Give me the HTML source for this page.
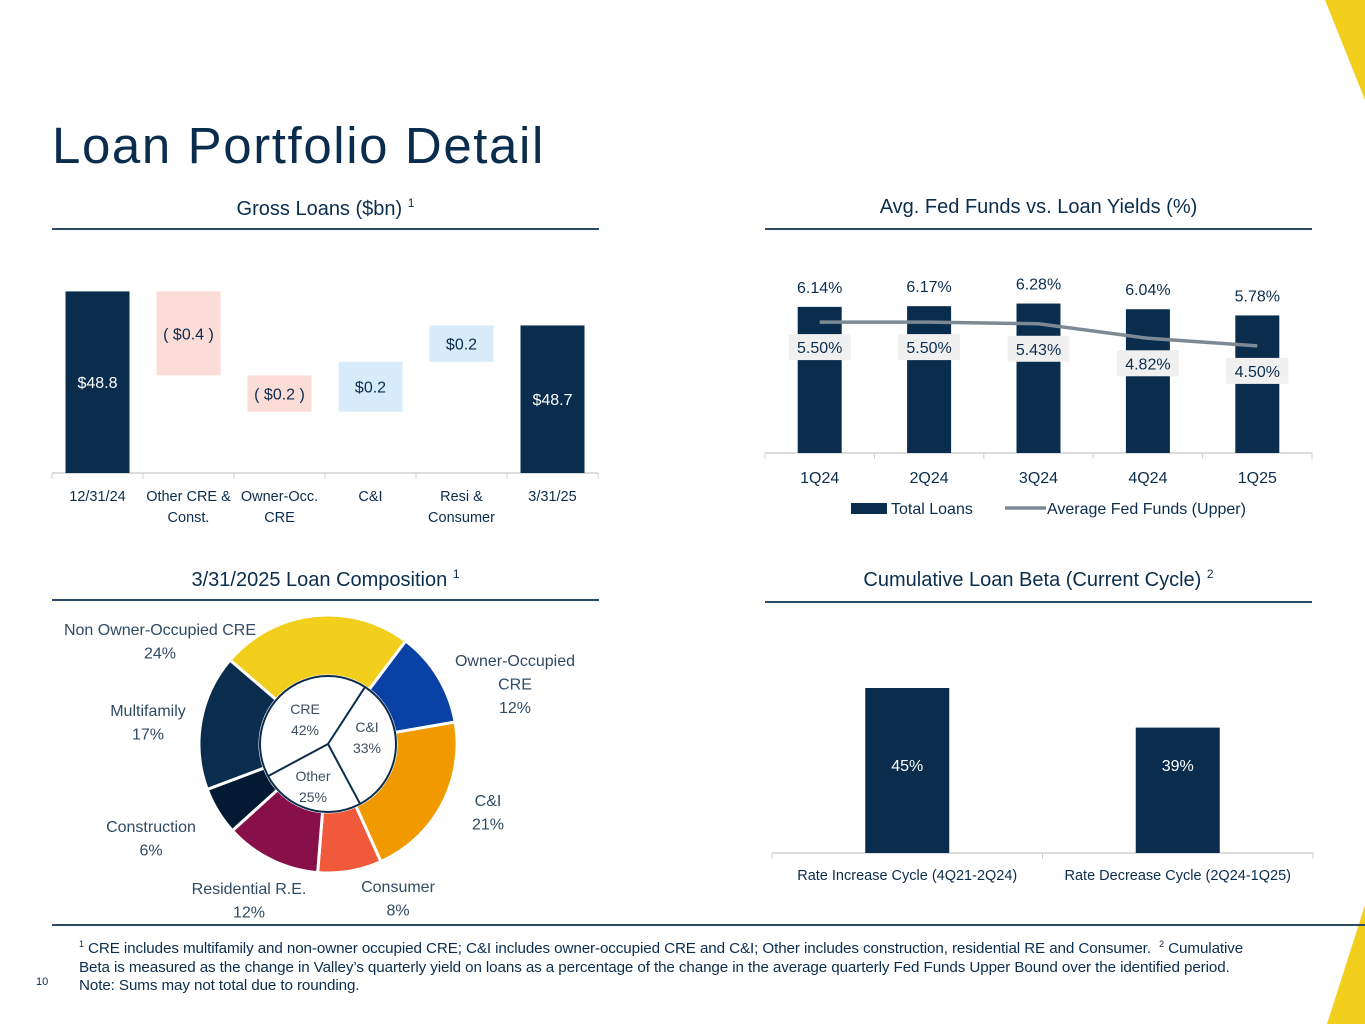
<!DOCTYPE html>
<html><head><meta charset="utf-8">
<style>
body{margin:0;background:#fff;}
#page{position:relative;width:1365px;height:1024px;overflow:hidden;background:#fff;font-family:"Liberation Sans",sans-serif;color:#0b2d4d;}
.abs{position:absolute;}
h1{position:absolute;left:52px;top:116px;margin:0;font-size:51px;font-weight:normal;color:#0b2d4d;letter-spacing:1.6px;}
.hdr{position:absolute;font-size:20px;text-align:center;color:#0b2d4d;}
.hdr sup{font-size:12px;vertical-align:8px;}
.rule{position:absolute;height:1.5px;background:#2b4a66;}
.foot{position:absolute;left:79px;top:935px;width:1215px;font-family:"Liberation Sans Narrow","Liberation Sans",sans-serif;font-size:15.2px;line-height:18.5px;color:#0b2d4d;letter-spacing:-0.1px;}
.foot sup{font-size:9px;}
svg text{font-family:"Liberation Sans",sans-serif;}
</style></head><body>
<div id="page">
<svg class="abs" style="left:0;top:0" width="1365" height="1024">
<polygon points="1325,0 1365,0 1365,100" fill="#f2cf1d"/>
<polygon points="1365,905 1365,1024 1327,1024" fill="#f2cf1d"/>
</svg>
<h1>Loan Portfolio Detail</h1>
<div class="hdr" style="left:52px;top:196px;width:547px">Gross Loans ($bn) <sup>1</sup></div>
<div class="rule" style="left:52px;top:228px;width:547px"></div>
<div class="hdr" style="left:765px;top:196px;width:547px">Avg. Fed Funds vs. Loan Yields (%)</div>
<div class="rule" style="left:765px;top:228px;width:547px"></div>
<div class="hdr" style="left:52px;top:567px;width:547px">3/31/2025 Loan Composition <sup>1</sup></div>
<div class="rule" style="left:52px;top:599px;width:547px"></div>
<div class="hdr" style="left:765px;top:567px;width:547px">Cumulative Loan Beta (Current Cycle) <sup>2</sup></div>
<div class="rule" style="left:765px;top:601px;width:547px"></div>
<div class="rule" style="left:52px;top:924px;width:1313px"></div>
<div class="foot"><sup>1</sup> CRE includes multifamily and non-owner occupied CRE; C&amp;I includes owner-occupied CRE and C&amp;I; Other includes construction, residential RE and Consumer.&nbsp; <sup>2</sup> Cumulative<br>Beta is measured as the change in Valley’s quarterly yield on loans as a percentage of the change in the average quarterly Fed Funds Upper Bound over the identified period.<br>Note: Sums may not total due to rounding.</div>
<div class="abs" style="left:36px;top:976px;font-size:11px;font-family:'Liberation Sans Narrow','Liberation Sans',sans-serif">10</div>
<svg id="charts" class="abs" style="left:0;top:0" width="1365" height="1024"></svg>
</div>
<script>
// Waterfall data
const wfCats = ["12/31/24","Other CRE &|Const.","Owner-Occ.|CRE","C&I","Resi &|Consumer","3/31/25"];
const wfStart = 48.8;
const wfDeltas = [-0.37,-0.16,0.22,0.16];
const wfEnd = 48.65;
const wfLabels = ["$48.8","( $0.4 )","( $0.2 )","$0.2","$0.2","$48.7"];
// Yields chart data
const qCats = ["1Q24","2Q24","3Q24","4Q24","1Q25"];
const loanYields = [6.14,6.17,6.28,6.04,5.78];
const fedFunds = [5.50,5.50,5.43,4.82,4.50];
// Composition data
const outerCats = ["Owner-Occupied CRE","C&I","Consumer","Residential R.E.","Construction","Multifamily","Non Owner-Occupied CRE"];
const outerVals = [12,21,8,12,6,17,24];
const innerCats = ["C&I","Other","CRE"];
const innerVals = [33,25,42];
// Beta data
const betaCats = ["Rate Increase Cycle (4Q21-2Q24)","Rate Decrease Cycle (2Q24-1Q25)"];
const betaVals = [45,39];

const NS="http://www.w3.org/2000/svg";
const svg=document.getElementById('charts');
function mk(tag,attrs,parent){const e=document.createElementNS(NS,tag);for(const k in attrs)e.setAttribute(k,attrs[k]);(parent||svg).appendChild(e);return e;}
function txt(x,y,s,size,fill,parent,anchor){const t=mk('text',{x:x,y:y,'font-size':size,fill:fill,'text-anchor':anchor||'middle'},parent);t.textContent=s;return t;}
const NAVY="#0b2d4d";

// ---------- Waterfall ----------
(function(){
 const g=mk('g',{});
 
 
 const x0=52,slot=91,bw=64,base=48.0,k=227,y0=473;
 const y=v=>y0-(v-base)*k;
 const cx=i=>x0+slot*i+slot/2;
 mk('line',{x1:x0,y1:y0,x2:x0+slot*6,y2:y0,stroke:'#d0d0d0','stroke-width':1.5},g);
 for(let i=0;i<=6;i++) mk('line',{x1:x0+slot*i,y1:y0,x2:x0+slot*i,y2:y0+6,stroke:'#d0d0d0'},g);
 let cum=wfStart;
 for(let i=0;i<6;i++){
  let top,bot,fill,tc;
  if(i===0){top=y(wfStart);bot=y0;fill=NAVY;tc='#fff';}
  else if(i===5){top=y(wfEnd);bot=y0;fill=NAVY;tc='#fff';}
  else{const d=wfDeltas[i-1];const a=cum,b=cum+d;cum=b;top=y(Math.max(a,b));bot=y(Math.min(a,b));fill=d<0?'#fcdcd6':'#d7ebfb';tc=NAVY;}
  const r=mk('rect',{x:cx(i)-bw/2,y:top,width:bw,height:bot-top,fill:fill},g);
  
  
  txt(cx(i),(top+bot)/2+6,wfLabels[i],16,tc,g);
  const parts=wfCats[i].split('|');
  parts.forEach((p,j)=>txt(cx(i),y0+28+j*21,p,14.5,NAVY,g));
 }
})();

// ---------- Yields ----------
(function(){
 const g=mk('g',{});
 
 
 const x0=765,slot=109.4,bw=44,y0=453,k=23.8;
 const y=v=>y0-v*k;
 const cx=i=>x0+slot*i+slot/2;
 mk('line',{x1:x0,y1:y0,x2:x0+slot*5,y2:y0,stroke:'#d0d0d0','stroke-width':1.5},g);
 for(let i=0;i<=5;i++) mk('line',{x1:x0+slot*i,y1:y0,x2:x0+slot*i,y2:y0+6,stroke:'#d0d0d0'},g);
 loanYields.forEach((v,i)=>{
  const r=mk('rect',{x:cx(i)-bw/2,y:y(v),width:bw,height:y0-y(v),fill:NAVY},g);
  
  
  txt(cx(i),y(v)-14,v.toFixed(2)+'%',16,NAVY,g);
  txt(cx(i),y0+30,qCats[i],16,NAVY,g);
 });
 const pts=fedFunds.map((v,i)=>cx(i)+','+y(v)).join(' ');
 const pl=mk('polyline',{points:pts,fill:'none',stroke:'#7d8a96','stroke-width':3.5,'stroke-linejoin':'round'},g);
 
 
 fedFunds.forEach((v,i)=>{
  const ly=y(v)+27;
  mk('rect',{x:cx(i)-31,y:ly-15,width:62,height:26,fill:'#f0f0f0'},g);
  txt(cx(i),ly+4,v.toFixed(2)+'%',16,NAVY,g);
 });
 const lg=mk('g',{},g);
 
 
 mk('rect',{x:851,y:503,width:36,height:11,fill:NAVY},lg);
 txt(891,514,'Total Loans',16,NAVY,lg,'start');
 mk('line',{x1:1005,y1:508,x2:1046,y2:508,stroke:'#7d8a96','stroke-width':3.5},lg);
 txt(1047,514,'Average Fed Funds (Upper)',16,NAVY,lg,'start');
})();

// ---------- Donut ----------
(function(){
 const g=mk('g',{});
 
 
 const cx=328,cy=744,R=129,r=68;
 const colors=["#0a41a5","#f09a00","#f05a3a","#870f4a","#041a33","#0b2d4d","#f2cf1d"];
 const pol=(rad,deg)=>[cx+rad*Math.sin(deg*Math.PI/180),cy-rad*Math.cos(deg*Math.PI/180)];
 const tot=outerVals.reduce((a,b)=>a+b,0);
 let a=37;
 outerVals.forEach((v,i)=>{
  const b=a+v/tot*360;
  const [x1,y1]=pol(R,a),[x2,y2]=pol(R,b),[x3,y3]=pol(r,b),[x4,y4]=pol(r,a);
  const lf=(b-a)>180?1:0;
  const p=mk('path',{d:`M${x1},${y1} A${R},${R} 0 ${lf} 1 ${x2},${y2} L${x3},${y3} A${r},${r} 0 ${lf} 0 ${x4},${y4} Z`,fill:colors[i],stroke:'#fff','stroke-width':3},g);
  
  
  a=b;
 });
 mk('circle',{cx:cx,cy:cy,r:r,fill:'#fff',stroke:NAVY,'stroke-width':2},g);
 const itot=innerVals.reduce((a,b)=>a+b,0);
 let ia=33;
 innerVals.forEach(v=>{const [x,y]=pol(r,ia);mk('line',{x1:cx,y1:cy,x2:x,y2:y,stroke:NAVY,'stroke-width':2},g);ia+=v/itot*360;});
 const inLab=[[367,732],[313,781],[305,714]];
 innerCats.forEach((c,i)=>{txt(inLab[i][0],inLab[i][1],c,14,'#3d4f60',g);txt(inLab[i][0],inLab[i][1]+21,innerVals[i]+'%',14,'#3d4f60',g);});
 const labs=[[["Owner-Occupied","CRE"],515,666],[["C&I"],488,806],[["Consumer"],398,892],[["Residential R.E."],249,894],[["Construction"],151,832],[["Multifamily"],148,716],[["Non Owner-Occupied CRE"],160,635]];
 labs.forEach((L,i)=>{
  const lines=L[0].concat([outerVals[i]+'%']);
  lines.forEach((s,j)=>txt(L[1],L[2]+j*23.5,s,16,'#2f4a63',g));
 });
})();

// ---------- Beta ----------
(function(){
 const g=mk('g',{});
 
 
 const x0=772,slot=270.5,bw=84,y0=853,base=20,k=6.6;
 const y=v=>y0-(v-base)*k;
 const cx=i=>x0+slot*i+slot/2;
 mk('line',{x1:x0,y1:y0,x2:x0+slot*2,y2:y0,stroke:'#d0d0d0','stroke-width':1.5},g);
 for(let i=0;i<=2;i++) mk('line',{x1:x0+slot*i,y1:y0,x2:x0+slot*i,y2:y0+6,stroke:'#d0d0d0'},g);
 betaVals.forEach((v,i)=>{
  const r=mk('rect',{x:cx(i)-bw/2,y:y(v),width:bw,height:y0-y(v),fill:NAVY},g);
  
  
  txt(cx(i),771,v+'%',16,'#fff',g);
  txt(cx(i),880,betaCats[i],14.5,NAVY,g);
 });
})();
</script>
</body></html>
